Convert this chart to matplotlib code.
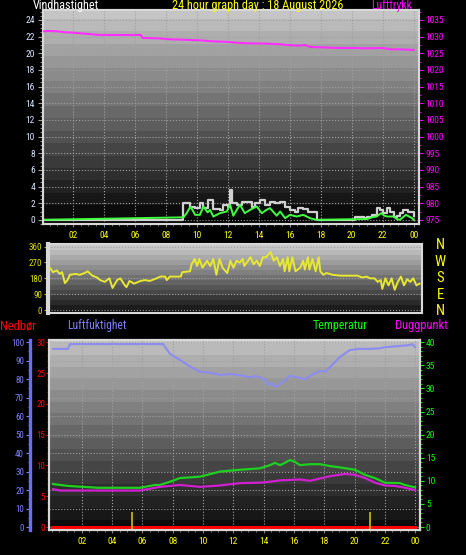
import numpy as np
import matplotlib
matplotlib.use("Agg")
import matplotlib.pyplot as plt
from matplotlib.ticker import MultipleLocator
from matplotlib import font_manager

# --------------------------------------------------
# Data
# --------------------------------------------------
hour_ticks = [2, 4, 6, 8, 10, 12, 14, 16, 18, 20, 22, 24]
hour_labels = ["02", "04", "06", "08", "10", "12", "14", "16", "18", "20", "22", "00"]

# wind gust (grey) and wind speed (green), m/s
gust_t = [0, 9.14, 9.57, 9.9, 10.2, 10.43, 10.75, 11.07, 11.5, 11.72, 12.04, 12.15,
          12.26, 12.58, 12.9, 13.23, 13.55, 13.76, 14.09, 14.4, 14.73, 15.05, 15.38,
          15.7, 16.02, 16.34, 16.56, 16.88, 17.2, 17.53, 17.74, 20.2, 20.5, 20.8,
          21.0, 21.3, 21.6, 21.8, 22.0, 22.3, 22.5, 22.7, 22.9, 23.1, 23.3, 23.6,
          23.8, 24.0]
gust = [0, 2.0, 1.6, 1.4, 2.0, 1.4, 2.4, 1.3, 1.2, 1.8, 1.5, 3.6,
        2.0, 1.8, 2.2, 2.2, 1.6, 2.0, 2.4, 1.8, 2.2, 2.0, 2.2,
        1.5, 1.2, 1.0, 1.4, 1.3, 1.0, 1.0, 0, 0.3, 0.4, 0.2,
        0.4, 0.6, 1.4, 1.2, 0.8, 1.4, 0.9, 0.4, 0.5, 0.8, 1.2, 1.0,
        1.0, 0.5]

speed_t = [0, 9.14, 9.35, 9.6, 9.9, 10.2, 10.43, 10.7, 10.86, 11.07, 11.5, 11.93,
           12.15, 12.36, 12.58, 12.79, 13.1, 13.44, 13.87, 14.2, 14.5, 14.73, 15.16,
           15.38, 15.7, 16.02, 16.45, 16.88, 17.3, 17.74, 21.0, 21.3, 21.6, 21.9,
           22.1, 22.3, 22.7, 22.9, 23.1, 23.5, 23.9, 24.0]
speed = [0, 0.3, 0.8, 1.6, 0.6, 0.6, 1.6, 0.9, 1.2, 0.4, 0.8, 1.0,
         1.8, 0.5, 1.2, 1.8, 0.8, 1.2, 1.6, 0.8, 1.2, 1.4, 0.5,
         1.0, 0.2, 0.6, 0.4, 0.6, 0.2, 0, 0.1, 0.3, 0.4, 0.8,
         0.5, 0.4, 0.4, 0.1, 0, 0.6, 0.2, 0]

# air pressure, hPa
pres_t = [0, 0.5, 1.0, 1.5, 2.0, 2.5, 3.0, 3.7, 4.5, 5.5, 6.4, 6.5, 7.5, 8.3, 9.0,
          10.2, 11.0, 12.0, 12.8, 13.5, 14.5, 15.4, 15.8, 16.6, 17.0, 17.3, 18.0,
          19.2, 20.0, 21.0, 22.0, 22.5, 23.0, 24.0]
pres = [1031.6, 1031.7, 1031.6, 1031.3, 1031.2, 1031.0, 1030.8, 1030.5, 1030.5,
        1030.5, 1030.5, 1029.6, 1029.5, 1029.2, 1029.1, 1028.9, 1028.6, 1028.4,
        1028.1, 1028.0, 1027.9, 1027.7, 1027.5, 1027.3, 1027.5, 1026.9, 1026.8,
        1026.6, 1026.6, 1026.5, 1026.6, 1026.2, 1026.2, 1026.0]

# wind direction, degrees
dir_t = [0.06, 0.26, 0.5, 0.7, 0.85, 1.03, 1.2, 1.35, 1.7, 2.0, 2.3, 2.5, 2.8, 3.1,
         3.3, 3.6, 3.9, 4.1, 4.4, 4.6, 4.9, 5.0, 5.2, 5.5, 5.9, 6.2, 6.5, 6.8, 7.2,
         7.5, 7.6, 7.8, 8.1, 8.5, 8.6, 9.1, 9.2, 9.4, 9.55, 9.7, 9.9, 10.2, 10.4,
         10.6, 10.8, 11.0, 11.2, 11.5, 11.7, 11.9, 12.1, 12.3, 12.5, 12.6, 13.0,
         13.2, 13.4, 13.6, 13.8, 14.0, 14.3, 14.5, 14.7, 14.9, 15.1, 15.2, 15.4,
         15.5, 15.7, 15.9, 16.2, 16.4, 16.5, 16.7, 16.8, 17.0, 17.2, 17.4, 17.5,
         17.7, 17.9, 18.3, 18.8, 19.4, 19.9, 20.2, 20.5, 20.7, 21.0, 21.2, 21.4,
         21.5, 21.7, 21.9, 22.1, 22.3, 22.5, 22.7, 22.9, 23.1, 23.3, 23.5, 23.7,
         23.9]
wdir = [240, 215, 225, 205, 215, 153, 170, 200, 205, 200, 210, 220, 195, 185,
        170, 160, 180, 125, 170, 180, 140, 130, 165, 150, 165, 170, 165, 175, 190,
        190, 170, 190, 190, 190, 215, 220, 260, 290, 250, 290, 240, 280, 250,
        290, 200, 290, 240, 210, 280, 240, 280, 270, 290, 250, 300,
        260, 280, 250, 300, 300, 330, 280, 300, 250, 290, 220, 300,
        220, 300, 220, 240, 280, 230, 300, 230, 290, 220, 300, 220,
        200, 210, 200, 195, 195, 195, 185, 190, 180, 180, 160, 170,
        120, 180, 140, 180, 115, 160, 190, 140, 175, 160, 180, 140,
        150]

# humidity %, temperature and dew point C
hum_t = [0.1, 1.09, 1.22, 7.36, 7.82, 8.48, 9.14, 9.8, 10.46, 11.12, 11.78, 12.44,
         13.1, 13.43, 13.76, 14.09, 14.29, 14.55, 14.75, 15.08, 15.41, 15.74, 16.4,
         16.73, 17.06, 17.72, 18.05, 18.38, 19.04, 19.7, 20.36, 21.02, 21.68, 22.01,
         23.0, 23.66, 23.8, 24.0]
hum = [96.4, 96.4, 99, 99, 93.7, 90.4, 86.8, 84, 83.5, 82.3, 82.8, 82.1,
       81, 81.7, 81, 79.6, 77, 78, 75.8, 77.4, 79.6, 81.8, 80.7,
       80, 81.8, 84.5, 84, 86.6, 92, 95.8, 96.4, 96.4, 96.7, 97.3,
       98, 98.5, 99, 97.3]

temp_t = [0.1, 1.09, 3.07, 5.84, 6.83, 7.16, 7.82, 8.48, 9.8, 11.12, 12.44, 13.76,
          14.42, 14.75, 15.08, 15.41, 15.74, 16.07, 16.4, 17.06, 17.72, 18.38,
          19.04, 20.03, 20.69, 21.35, 22.01, 23.0, 23.33, 23.99]
temp = [9.3, 8.9, 8.5, 8.5, 9.1, 9.1, 9.8, 10.6, 10.9, 12.0, 12.4, 12.7,
        13.4, 13.9, 13.4, 13.9, 14.5, 14.1, 13.4, 13.6, 13.6, 13.2,
        12.9, 12.4, 11.3, 10.6, 9.6, 9.5, 9.1, 8.6]

dew_t = [0.1, 0.56, 3.2, 5.84, 7.16, 8.48, 9.8, 11.12, 12.44, 13.76, 14.42, 15.08,
         16.4, 17.06, 17.72, 18.38, 19.37, 20.03, 20.69, 21.35, 22.01, 22.67,
         23.33, 23.99]
dew = [8.2, 7.9, 7.9, 7.9, 8.7, 9.1, 8.7, 9.0, 9.5, 9.6, 9.8, 10.1,
       10.3, 10.0, 10.5, 11.0, 11.5, 11.3, 10.6, 9.6, 9.0, 8.9,
       8.5, 8.0]

# rain (mm) and the two yellow markers
rain_t = [0, 24]
rain = [0, 0]
mark_t = [5.3, 21.0]
mark_v = [2.5, 2.5]

# --------------------------------------------------
# Layout helpers (pixel based)
# --------------------------------------------------
W, H = 466, 555
PT = 0.72  # points per pixel at dpi 100

installed = {f.name for f in font_manager.fontManager.ttflist}
narrow = "DejaVu Sans"
for cand in ["Liberation Sans Narrow", "DejaVu Sans Condensed", "Roboto Condensed"]:
    if cand in installed:
        narrow = cand
        break
plt.rcParams["font.family"] = [narrow, "DejaVu Sans"]

YELLOW = "#ffff00"
MAGENTA = "#ff00ff"
BLUE = "#8080ff"
GREEN = "#00ff00"
RED = "#ff0000"
EDGE = "#d8d8d8"
GRID = "#a0a0a0"


def px_axes(fig, x0, y0, x1, y1):
    return fig.add_axes([x0 / W, 1 - y1 / H, (x1 - x0) / W, (y1 - y0) / H])


def gradient_bg(ax, top, bottom, bands=22):
    g = np.linspace(top, bottom, 300)
    g = np.round(g * bands) / bands
    x0, x1 = ax.get_xlim()
    y0, y1 = ax.get_ylim()
    ax.imshow(g[:, None], extent=(x0, x1, y0, y1), aspect="auto", cmap="gray",
              vmin=0, vmax=1, zorder=0, interpolation="nearest")
    ax.set_xlim(x0, x1)
    ax.set_ylim(y0, y1)


def frame(ax):
    for s in ax.spines.values():
        s.set_color(EDGE)
        s.set_linewidth(1.5)


def header(fig, x0, x1, y, s, color, size=9.0):
    # put text between x0 and x1 (pixels); scale the font to that width
    t = fig.text(x0 / W, 1 - y / H, s, color=color, fontsize=size,
                 ha="left", va="center")
    r = fig.canvas.get_renderer()
    w = t.get_window_extent(r).width
    t.set_fontsize(min(10.5, size * (x1 - x0) / w))
    return t


fig = plt.figure(figsize=(W / 100, H / 100), dpi=100, facecolor="black")

# --------------------------------------------------
# Top panel: wind speed + pressure
# --------------------------------------------------
ax1 = px_axes(fig, 43, 10, 419, 224)
ax1.set_xlim(0.08, 24.34)
ax1.set_ylim(-0.5, 25.2)
gradient_bg(ax1, 0.78, 0.0)
frame(ax1)
ax1.set_xticks(hour_ticks)
ax1.set_xticklabels(hour_labels)
ax1.xaxis.set_minor_locator(MultipleLocator(0.5))
ax1.yaxis.set_major_locator(MultipleLocator(2))
ax1.yaxis.set_minor_locator(MultipleLocator(0.5))
ax1.tick_params(axis="x", which="major", colors="#808080", labelcolor=YELLOW,
                labelsize=6.8, length=3 * PT, pad=4 * PT)
ax1.tick_params(axis="x", which="minor", colors="#808080", length=2 * PT)
ax1.tick_params(axis="y", which="major", colors="#a0a0a0", labelcolor="#d8e4ff",
                labelsize=6.8, length=5 * PT, pad=3 * PT)
ax1.tick_params(axis="y", which="minor", colors="#a0a0a0", length=3 * PT)
ax1.grid(True, which="major", color=GRID, linestyle=":", linewidth=0.8, zorder=1)
ax1.plot(gust_t, gust, color="#d0d0d0", lw=1.6, drawstyle="steps-post", zorder=3)
ax1.plot(speed_t, speed, color="#40ff40", lw=1.4, zorder=4)

ax1p = ax1.twinx()
ax1p.set_ylim(975 - 1.25, 975 + 2.5 * 25.2)
frame(ax1p)
ax1p.yaxis.set_major_locator(MultipleLocator(5))
ax1p.yaxis.set_minor_locator(MultipleLocator(2.5))
ax1p.tick_params(axis="y", which="major", colors=MAGENTA, labelcolor=MAGENTA,
                 labelsize=6.8, length=4 * PT, pad=2 * PT)
ax1p.tick_params(axis="y", which="minor", colors=MAGENTA, length=2 * PT)
ax1p.plot(pres_t, pres, color="#ff30ff", lw=1.5, zorder=5)

header(fig, 33, 99, 6, "Vindhastighet", "white")
header(fig, 172, 343, 6, "24 hour graph day : 18 August 2026", YELLOW)
header(fig, 371, 412, 6, "Lufttrykk", MAGENTA)

# --------------------------------------------------
# Middle panel: wind direction
# --------------------------------------------------
ax2 = px_axes(fig, 48, 244, 422, 313)
ax2.set_xlim(-0.06, 24.06)
ax2.set_ylim(-17, 375)
gradient_bg(ax2, 0.82, 0.05, bands=18)
frame(ax2)
ax2.spines["left"].set_linewidth(3)
ax2.set_xticks([])
ax2.set_yticks([0, 90, 180, 270, 360])
ax2.yaxis.set_minor_locator(MultipleLocator(15))
ax2.tick_params(axis="y", which="major", colors="#b0b000", labelcolor="#e0e000",
                labelsize=6.5, length=4 * PT, pad=2 * PT)
ax2.tick_params(axis="y", which="minor", colors="#b0b000", length=2 * PT)
ax2.grid(True, axis="y", color=GRID, linestyle=":", linewidth=0.8, zorder=1)
ax2.plot(dir_t, wdir, color="#e8e830", lw=1.4, zorder=3)

for lab, yy in zip(["N", "W", "S", "E", "N"], [245, 262, 278, 295, 311]):
    fig.text(440 / W, 1 - yy / H, lab, color=YELLOW, fontsize=10.5,
             ha="center", va="center")

# --------------------------------------------------
# Bottom panel: rain, humidity, temperature, dew point
# --------------------------------------------------
ax3 = px_axes(fig, 49, 340, 420, 530)
ax3.set_xlim(-0.165, 24.32)
ax3.set_ylim(-1.6, 101.2)
gradient_bg(ax3, 0.76, 0.03)
frame(ax3)
ax3.spines["left"].set_position(("outward", 19 * PT))
ax3.spines["left"].set_color("#6c6cff")
ax3.spines["left"].set_linewidth(2.4)
ax3.set_xticks(hour_ticks)
ax3.set_xticklabels(hour_labels)
ax3.xaxis.set_minor_locator(MultipleLocator(0.5))
ax3.yaxis.set_major_locator(MultipleLocator(10))
ax3.yaxis.set_minor_locator(MultipleLocator(5))
ax3.tick_params(axis="x", which="major", colors="#808080", labelcolor=YELLOW,
                labelsize=6.8, length=3 * PT, pad=4 * PT)
ax3.tick_params(axis="x", which="minor", colors="#808080", length=2 * PT)
ax3.tick_params(axis="y", which="major", colors=BLUE, labelcolor=BLUE,
                labelsize=6.5, length=4 * PT, pad=2 * PT)
ax3.tick_params(axis="y", which="minor", colors=BLUE, length=2 * PT)
ax3.grid(True, which="major", color=GRID, linestyle=":", linewidth=0.8, zorder=1)
ax3.plot(hum_t, hum, color="#8c8cf0", lw=1.5, zorder=3)

ax3r = ax3.twinx()
ax3r.set_ylim(-1.6 * 0.3, 101.2 * 0.3)
frame(ax3r)
ax3r.yaxis.tick_left()
ax3r.yaxis.set_major_locator(MultipleLocator(5))
ax3r.yaxis.set_minor_locator(MultipleLocator(1))
ax3r.tick_params(axis="y", which="major", colors=RED, labelcolor=RED,
                 labelsize=6.5, length=3 * PT, pad=1 * PT)
ax3r.tick_params(axis="y", which="minor", colors=RED, length=2 * PT)

ax3t = ax3.twinx()
ax3t.set_ylim(-1.6 * 0.4, 101.2 * 0.4)
frame(ax3t)
ax3t.yaxis.set_major_locator(MultipleLocator(5))
ax3t.yaxis.set_minor_locator(MultipleLocator(1))
ax3t.tick_params(axis="y", which="major", colors=GREEN, labelcolor=GREEN,
                 labelsize=6.8, length=4 * PT, pad=2 * PT)
ax3t.tick_params(axis="y", which="minor", colors=GREEN, length=2 * PT)
ax3t.plot(temp_t, temp, color="#20d020", lw=1.6, zorder=3)
ax3t.plot(dew_t, dew, color="#d020d0", lw=1.6, zorder=3)

ax3r.plot(rain_t, rain, color=RED, lw=2.2, zorder=4)
ax3r.vlines(mark_t, -0.7, mark_v, color="#d0c000", lw=1.2, zorder=5)

header(fig, 0, 36, 326, "Nedbør", RED)
header(fig, 67, 126, 326, "Luftfuktighet", BLUE)
header(fig, 313, 368, 326, "Temperatur", GREEN)
header(fig, 395, 448, 326, "Duggpunkt", MAGENTA)

fig.savefig("out.png", dpi=100, facecolor="black")
